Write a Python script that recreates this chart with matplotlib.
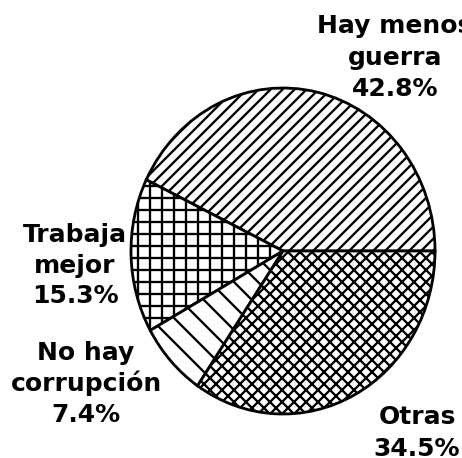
import matplotlib
matplotlib.use("Agg")
import matplotlib.pyplot as plt

labels = ["Hay menos guerra", "Trabaja mejor", "No hay corrupción", "Otras"]
label_lines = [["Hay menos", "guerra"], ["Trabaja", "mejor"], ["No hay", "corrupción"], ["Otras"]]
shares = [42.8, 15.3, 7.4, 34.5]
hatches = ['//', '+', '\\', 'xx']

# label anchors in pixels (center x, first baseline y from top)
label_pos = [(395, 33), (75, 242), (86, 360), (417, 424)]
line_step = [31.5, 30.5, 31, 32]

W, H, DPI = 462, 458, 72
plt.rcParams['hatch.linewidth'] = 2.3

fig = plt.figure(figsize=(W / DPI, H / DPI), dpi=DPI)
fig.patch.set_facecolor('white')

# pie is a bit squashed in the scan: separate x/y radius
cx, cy, rx, ry = 283, 251, 152, 163
m = 1.1
ax = fig.add_axes([(cx - rx * m) / W, (H - cy - ry * m) / H, 2 * rx * m / W, 2 * ry * m / H])

wedges, _ = ax.pie(shares, startangle=0, counterclock=True,
                   colors=['white'] * 4,
                   wedgeprops=dict(edgecolor='black', linewidth=2.8))
for w, h in zip(wedges, hatches):
    w.set_hatch(h)

ax.set_aspect('auto')
ax.set_xlim(-m, m)
ax.set_ylim(-m, m)
ax.axis('off')

for lines, share, (x, y), step in zip(label_lines, shares, label_pos, line_step):
    rows = lines + [f"{share}%"]
    for i, row in enumerate(rows):
        fig.text(x / W, 1 - (y + i * step) / H, row, ha='center', va='baseline',
                 fontsize=25, fontweight='bold', family='DejaVu Sans', color='black')

fig.savefig("out.png", dpi=DPI, facecolor='white')
